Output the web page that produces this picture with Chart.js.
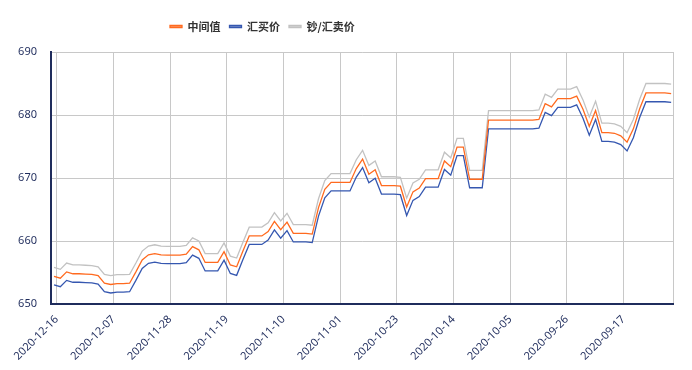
<!DOCTYPE html>
<html>
<head>
<meta charset="utf-8">
<script src="https://cdn.jsdelivr.net/npm/chart.js@4/dist/chart.umd.min.js"></script>
<style>
  html, body { margin: 0; padding: 0; background: #fff; }
  #wrap { width: 692px; height: 370px; }
</style>
</head>
<body>
<div id="wrap"><canvas id="rateChart"></canvas></div>
<script>
// 2020-12-16 (left) back to 2020-09-09 (right), one point per calendar day
const seriesNames = ['中间值', '汇买价', '钞/汇卖价'];
const tickLabels = ['2020-12-16', '2020-12-07', '2020-11-28', '2020-11-19', '2020-11-10',
  '2020-11-01', '2020-10-23', '2020-10-14', '2020-10-05', '2020-09-26', '2020-09-17'];

const midRate = [
  654.4, 654.1, 655.1, 654.8, 654.8, 654.75, 654.7, 654.5, 653.3, 653.1,
  653.25, 653.25, 653.3, 655.1, 657.0, 657.8, 658.0, 657.8, 657.75, 657.75,
  657.75, 657.9, 659.1, 658.6, 656.6, 656.6, 656.6, 658.3, 656.2, 655.9,
  658.4, 660.8, 660.8, 660.8, 661.5, 663.1, 661.8, 663.0, 661.2, 661.2,
  661.2, 661.1, 665.3, 668.2, 669.3, 669.3, 669.3, 669.3, 671.5, 673.0,
  670.6, 671.3, 668.8, 668.8, 668.8, 668.7, 665.4, 667.8, 668.4, 669.9,
  669.9, 669.9, 672.7, 671.8, 674.9, 674.9, 669.8, 669.8, 669.8, 679.2,
  679.2, 679.2, 679.2, 679.2, 679.2, 679.2, 679.2, 679.3, 681.8, 681.3,
  682.6, 682.6, 682.6, 683.0, 680.9, 678.2, 680.7, 677.2, 677.2, 677.1,
  676.7, 675.7, 677.8, 681.0, 683.5, 683.5, 683.5, 683.5, 683.4
];
const buyRate = [
  653.05, 652.75, 653.75, 653.45, 653.45, 653.4, 653.35, 653.15, 651.95, 651.75,
  651.9, 651.9, 651.95, 653.75, 655.65, 656.45, 656.65, 656.45, 656.4, 656.4,
  656.4, 656.55, 657.75, 657.25, 655.25, 655.25, 655.25, 656.95, 654.85, 654.55,
  657.05, 659.45, 659.45, 659.45, 660.15, 661.75, 660.45, 661.65, 659.85, 659.85,
  659.85, 659.75, 663.95, 666.85, 667.95, 667.95, 667.95, 667.95, 670.15, 671.65,
  669.25, 669.95, 667.45, 667.45, 667.45, 667.35, 664.05, 666.45, 667.05, 668.55,
  668.55, 668.55, 671.35, 670.45, 673.55, 673.55, 668.45, 668.45, 668.45, 677.8,
  677.8, 677.8, 677.8, 677.8, 677.8, 677.8, 677.8, 677.9, 680.4, 679.9,
  681.2, 681.2, 681.2, 681.6, 679.5, 676.8, 679.3, 675.8, 675.8, 675.7,
  675.3, 674.3, 676.4, 679.6, 682.1, 682.1, 682.1, 682.1, 682.0
];
const sellRate = [
  655.8, 655.5, 656.5, 656.2, 656.2, 656.15, 656.1, 655.9, 654.7, 654.5,
  654.65, 654.65, 654.7, 656.5, 658.4, 659.2, 659.4, 659.2, 659.15, 659.15,
  659.15, 659.3, 660.5, 660.0, 658.0, 658.0, 658.0, 659.7, 657.6, 657.3,
  659.8, 662.2, 662.2, 662.2, 662.9, 664.5, 663.2, 664.4, 662.6, 662.6,
  662.6, 662.5, 666.7, 669.6, 670.7, 670.7, 670.7, 670.7, 672.9, 674.4,
  672.0, 672.7, 670.2, 670.2, 670.2, 670.1, 666.8, 669.2, 669.8, 671.3,
  671.3, 671.3, 674.1, 673.2, 676.3, 676.3, 671.2, 671.2, 671.2, 680.7,
  680.7, 680.7, 680.7, 680.7, 680.7, 680.7, 680.7, 680.8, 683.3, 682.8,
  684.1, 684.1, 684.1, 684.5, 682.4, 679.7, 682.2, 678.7, 678.7, 678.6,
  678.2, 677.2, 679.3, 682.5, 685.0, 685.0, 685.0, 685.0, 684.9
];

const lineColors = ['#ff6a1f', '#3557b0', '#c2c2c2'];
const legendColors = ['#fba57c', '#8ea2d2', '#d8d8d8'];
const navy = '#1f2c5c';
const X_MIN = -0.48, X_MAX = 98.4, TICK_SHIFT = 0.43;
const LEGEND_PAD = 9;

const toPoints = arr => arr.map((v, i) => ({ x: i, y: v }));

// legend sits left of centre in the original, and the plot starts at y=52
const legendTweak = {
  id: 'legendTweak',
  beforeInit(chart) {
    const lg = chart.legend;
    const fit = lg.fit.bind(lg);
    lg.fit = function () { fit(); this.height = 40; };
  },
  afterLayout(chart) {
    chart.legend.left = 170 - LEGEND_PAD;
  }
};

const ctx = document.getElementById('rateChart').getContext('2d');
new Chart(ctx, {
  type: 'line',
  data: {
    datasets: [midRate, buyRate, sellRate].map((arr, i) => ({
      label: seriesNames[i],
      data: toPoints(arr),
      borderColor: lineColors[i],
      backgroundColor: legendColors[i],
      borderWidth: 1.3,
      pointRadius: 0,
      tension: 0,
      fill: false
    }))
  },
  options: {
    responsive: true,
    maintainAspectRatio: false,
    animation: false,
    layout: { padding: { top: 12, right: 18, left: 0, bottom: 0 } },
    plugins: {
      tooltip: { enabled: false },
      legend: {
        position: 'top',
        align: 'start',
        labels: {
          boxWidth: 12,
          boxHeight: 2,
          padding: LEGEND_PAD,
          color: '#333',
          font: { family: '"Noto Sans CJK SC", sans-serif', size: 11, weight: 'bold' }
        }
      }
    },
    scales: {
      x: {
        type: 'linear',
        min: X_MIN,
        max: X_MAX,
        afterBuildTicks: scale => {
          scale.ticks = tickLabels.map((t, k) => ({ value: TICK_SHIFT + 9 * k }))
            .concat([{ value: X_MAX }]);
        },
        afterFit: scale => { scale.height = 66; },
        ticks: {
          autoSkip: false,
          maxRotation: 45,
          minRotation: 45,
          padding: 9,
          color: navy,
          font: { family: '"Noto Sans", sans-serif', size: 11 },
          callback: (v, i) => tickLabels[i] || ''
        },
        grid: { color: '#c8c8c8', lineWidth: 1, drawTicks: false },
        border: { color: navy, width: 2 }
      },
      y: {
        min: 650,
        max: 690,
        afterFit: scale => { scale.width = 51; },
        ticks: {
          stepSize: 10,
          padding: 14,
          color: navy,
          font: { family: '"Noto Sans", sans-serif', size: 11 }
        },
        grid: { color: '#c8c8c8', lineWidth: 1, drawTicks: false },
        border: { color: navy, width: 2 }
      }
    }
  },
  plugins: [legendTweak]
});
</script>
</body>
</html>
